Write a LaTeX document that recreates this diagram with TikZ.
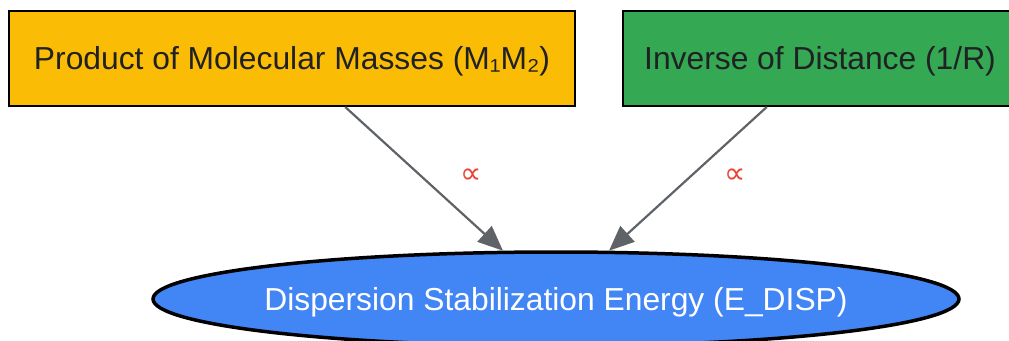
\documentclass[tikz,border=0pt]{standalone}
\usepackage{fontspec}
\setmainfont{Liberation Sans}
\newfontfamily\symfont{DejaVu Sans}
\usetikzlibrary{shapes.geometric,arrows.meta}
\definecolor{gyellow}{HTML}{FBBC05}
\definecolor{ggreen}{HTML}{34A853}
\definecolor{gblue}{HTML}{4285F4}
\definecolor{gred}{HTML}{EA4335}
\definecolor{ggrey}{HTML}{5F6368}
\definecolor{gtext}{HTML}{202124}
\tikzset{
  boxnode/.style={draw=black, line width=2pt, rectangle, minimum height=95pt, inner sep=0pt, text height=28pt, text depth=6pt, text=gtext, font=\fontsize{31.8}{38}\selectfont},
  ellnode/.style={draw=black, line width=3.5pt, ellipse, fill=gblue, minimum width=806pt, minimum height=94pt, inner xsep=-8pt, inner ysep=0pt, text height=28pt, text depth=6pt, text=white, font=\fontsize{31.8}{38}\selectfont},
  conn/.style={draw=ggrey, line width=2.2pt, -{Triangle[length=25pt,width=21pt]}},
  lbl/.style={text=gred, font=\symfont\fontsize{30}{34}\selectfont, inner sep=0pt}
}
\begin{document}
\begin{tikzpicture}[x=1pt,y=-1pt]
\useasboundingbox (0,0) rectangle (1009,340);
\node[boxnode, fill=gyellow, minimum width=566pt] (b1) at (292,58.5) {Product of Molecular Masses (M₁M₂)};
\node[boxnode, fill=ggreen, minimum width=394pt] (b2) at (820,58.5) {Inverse of Distance (1/R)};
\node[ellnode] (e) at (556,299) {Dispersion Stabilization Energy (E\_DISP)};
\draw[conn] (b1) -- (e);
\draw[conn] (b2) -- (e);
\node[lbl] (l1) at (471,176) {∝};
\node[lbl] (l2) at (735,176) {∝};
\end{tikzpicture}
\end{document}
